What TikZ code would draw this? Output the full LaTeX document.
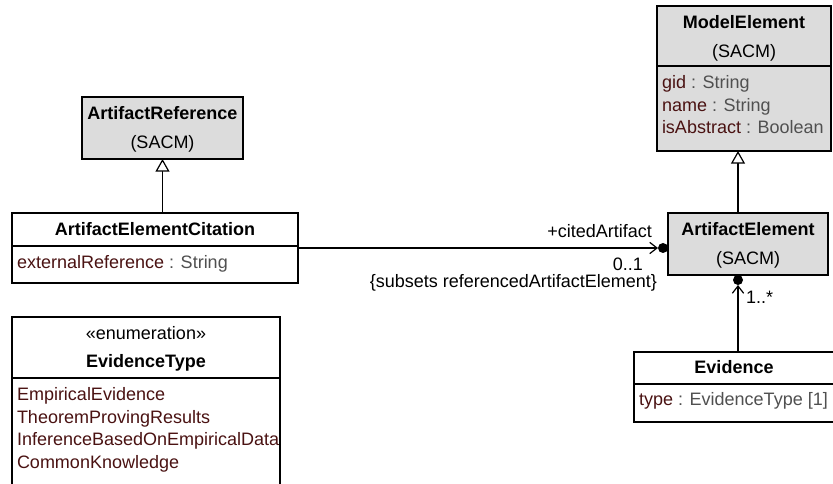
\documentclass[tikz,border=0pt]{standalone}
\usepackage{fontspec}
\setmainfont{Liberation Sans}
\usetikzlibrary{arrows.meta,calc}
\definecolor{boxgray}{HTML}{DCDCDC}
\definecolor{attrname}{HTML}{4A1212}
\definecolor{attrtype}{HTML}{505050}
\begin{document}
\begin{tikzpicture}[x=0.75pt,y=-0.75pt,
  font=\fontsize{13.5}{16}\selectfont,
  box/.style={draw, line width=0.9pt, inner sep=0pt, outer sep=0pt, anchor=north west},
  gbox/.style={box, fill=boxgray},
  txt/.style={inner sep=0pt, outer sep=0pt, anchor=base},
  ttl/.style={txt, font=\fontsize{13.5}{16}\selectfont\bfseries},
  lft/.style={inner sep=0pt, outer sep=0pt, anchor=base west},
  rgt/.style={inner sep=0pt, outer sep=0pt, anchor=base east},
  sep/.style={line width=0.9pt},
  dot/.style={circle, fill=black, draw=none, inner sep=0pt, outer sep=0pt, minimum size=7.5pt},
  gen/.style={line width=0.9pt, -{Triangle[open, length=9.5pt, width=10.5pt, fill=white]}},
  nav/.style={line width=0.9pt, -{Straight Barb[length=5.5pt, width=8.5pt]}}]
\clip (0,0) rectangle (833,484);
\fill[white] (0,0) rectangle (833,484);

% ModelElement
\node[gbox, minimum width={174*0.75pt}, minimum height={145*0.75pt}] (me) at (657,6) {};
\draw[sep] ($(me.north west)+(0,60)$) -- ($(me.north east)+(0,60)$);
\node[ttl] (meT) at ($(me.north)+(0,22.5)$) {ModelElement};
\node[txt] (meS) at ($(me.north)+(0,52)$) {(SACM)};
\node[lft] (meA1) at ($(me.north west)+(5,83)$) {\textcolor{attrname}{gid} \textcolor{attrtype}{: String}};
\node[lft] (meA2) at ($(me.north west)+(5,105.5)$) {\textcolor{attrname}{name} \textcolor{attrtype}{: String}};
\node[lft] (meA3) at ($(me.north west)+(5,128)$) {\textcolor{attrname}{isAbstract} \textcolor{attrtype}{: Boolean}};

% ArtifactElement
\node[gbox, minimum width={160*0.75pt}, minimum height={62*0.75pt}] (ae) at (668,213) {};
\node[ttl] (aeT) at ($(ae.north)+(0,22.5)$) {ArtifactElement};
\node[txt] (aeS) at ($(ae.north)+(0,52)$) {(SACM)};

% Evidence
\node[box, fill=white, minimum width={210*0.75pt}, minimum height={70*0.75pt}] (ev) at (634,352) {};
\draw[sep] ($(ev.north west)+(0,32)$) -- ($(ev.north east)+(0,32)$);
\node[ttl] (evT) at ($(ev.north west)+(100,21.5)$) {Evidence};
\node[lft] (evA1) at ($(ev.north west)+(5,54)$) {\textcolor{attrname}{type} \textcolor{attrtype}{: EvidenceType [1]}};

% ArtifactReference
\node[gbox, minimum width={161*0.75pt}, minimum height={62*0.75pt}] (ar) at (82,97) {};
\node[ttl] (arT) at ($(ar.north)+(0,22.5)$) {ArtifactReference};
\node[txt] (arS) at ($(ar.north)+(0,52)$) {(SACM)};

% ArtifactElementCitation
\node[box, fill=white, minimum width={286*0.75pt}, minimum height={70*0.75pt}] (cit) at (12,213) {};
\draw[sep] ($(cit.north west)+(0,33)$) -- ($(cit.north east)+(0,33)$);
\node[ttl] (citT) at ($(cit.north)+(0,22.5)$) {ArtifactElementCitation};
\node[lft] (citA1) at ($(cit.north west)+(5,56)$) {\textcolor{attrname}{externalReference} \textcolor{attrtype}{: String}};

% EvidenceType
\node[box, fill=white, minimum width={268*0.75pt}, minimum height={200*0.75pt}] (et) at (12,317) {};
\draw[sep] ($(et.north west)+(0,61)$) -- ($(et.north east)+(0,61)$);
\node[txt] (etS) at ($(et.north)+(0,23)$) {«enumeration»};
\node[ttl] (etT) at ($(et.north)+(0,51)$) {EvidenceType};
\node[lft, text=attrname] (etL1) at ($(et.north west)+(5,84)$) {EmpiricalEvidence};
\node[lft, text=attrname] (etL2) at ($(et.north west)+(5,106.5)$) {TheoremProvingResults};
\node[lft, text=attrname] (etL3) at ($(et.north west)+(5,129)$) {InferenceBasedOnEmpiricalData};
\node[lft, text=attrname] (etL4) at ($(et.north west)+(5,151.5)$) {CommonKnowledge};

% ownership dots
\node[dot, anchor=east] (d1) at (ae.west |- cit.east) {};
\node[dot, anchor=north] (d2) at ($(ae.south west)+(70,0)$) {};

% generalizations
\draw[gen] (ae.north -| d2.north) -- (me.south -| d2.north);
\draw[gen] (cit.north -| ar.south) -- (ar.south);

% associations
\draw[nav] (cit.east) -- (d1.west);
\draw[nav] (ev.north -| d2.south) -- (d2.south);

% association labels
\node[rgt] (lRole) at ($(d1.west)+(-6,-10)$) {+citedArtifact};
\node[rgt] (lMult) at ($(d1.west)+(-15,23)$) {0..1};
\node[rgt] (lSub) at ($(d1.west)+(-1,40)$) {\{subsets referencedArtifactElement\}};
\node[lft] (lMult2) at ($(d2.south)+(8,19)$) {1..*};
\end{tikzpicture}
\end{document}
